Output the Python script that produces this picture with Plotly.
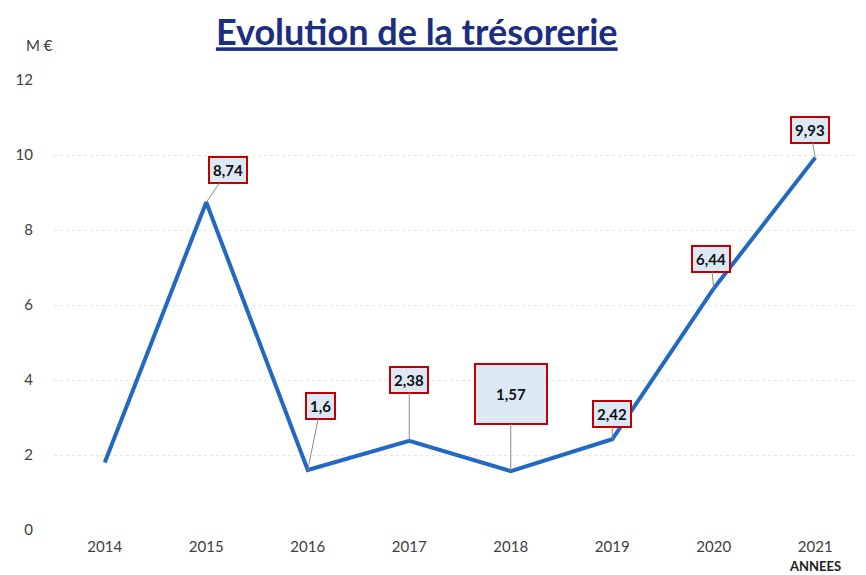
import plotly.graph_objects as go

# Data
annees = ['2014', '2015', '2016', '2017', '2018', '2019', '2020', '2021']
tresorerie = [1.8, 8.74, 1.6, 2.38, 1.57, 2.42, 6.44, 9.93]
etiquettes = [None, '8,74', '1,6', '2,38', '1,57', '2,42', '6,44', '9,93']
y_ticks = [0, 2, 4, 6, 8, 10, 12]

# label box offsets (px) relative to the point
decalages = [None, (22, -32), (13, -64), (0, -61), (0, -77), (0, -25), (-3, -30), (-5, -28)]

FONT = 'Lato'

fig = go.Figure()

fig.add_trace(go.Scatter(
    x=annees, y=tresorerie,
    mode='lines',
    line=dict(color='#2169c2', width=4),
    hoverinfo='x+y',
    showlegend=False
))

notes = []
for i, (val, txt, dec) in enumerate(zip(tresorerie, etiquettes, decalages)):
    if txt is None:
        continue
    grand = annees[i] == '2018'
    # category axis: position by index so '2015' is not read as index 2015
    notes.append(dict(
        x=i, y=val, text='<b>' + txt + '</b>',
        showarrow=True, arrowhead=0, arrowwidth=1, arrowcolor='#8c8c8c',
        standoff=0, ax=dec[0], ay=dec[1],
        font=dict(family=FONT, size=15, color='#111111'),
        bgcolor='#dce9f5', bordercolor='#c00000', borderwidth=2,
        borderpad=3,
        width=64 if grand else None, height=52 if grand else None
    ))

notes += [
    dict(text='M €', xref='paper', yref='paper', x=-0.018, y=1.078,
         xanchor='center', yanchor='middle', showarrow=False,
         font=dict(family=FONT, size=15, color='#404040')),
    dict(text='<b>ANNEES</b>', xref='x', yref='paper', x=7, y=-0.06,
         xanchor='center', yanchor='top', showarrow=False, borderpad=0,
         font=dict(family=FONT, size=13, color='#222222'))
]

fig.update_layout(
    title=dict(
        text='<b><u>Evolution de la trésorerie</u></b>',
        font=dict(family=FONT, size=36, color='#1c2e82'),
        x=0.472, xanchor='center', y=0.957, yanchor='middle'
    ),
    width=866, height=575,
    margin=dict(l=44, r=8, t=72, b=53),
    paper_bgcolor='white', plot_bgcolor='white',
    font=dict(family=FONT, size=15, color='#404040'),
    xaxis=dict(
        type='category', range=[-0.5, 7.5], showgrid=False,
        zeroline=False, showline=False, ticklabelstandoff=6,
        tickfont=dict(size=15, color='#404040')
    ),
    yaxis=dict(
        range=[0, 12], tickvals=y_ticks, showgrid=True,
        gridcolor='#e6e6e6', gridwidth=1, griddash='dot',
        zeroline=False, showline=False, ticklabelstandoff=20,
        tickfont=dict(size=15, color='#404040')
    ),
    annotations=notes
)

fig.write_html("out.html")
